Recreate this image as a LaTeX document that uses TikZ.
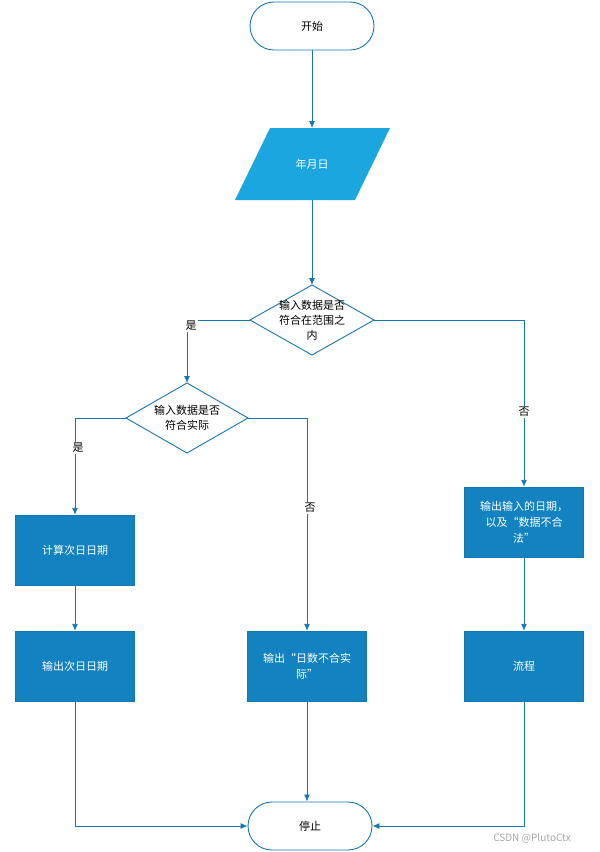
\documentclass[tikz,border=0pt]{standalone}
\usepackage{fontspec}
\setmainfont{Noto Sans CJK SC}
\usetikzlibrary{arrows.meta}
\definecolor{edge}{HTML}{1577B0}
\definecolor{boxfill}{HTML}{1283C0}
\definecolor{parafill}{HTML}{1BA6E0}
\begin{document}
\begin{tikzpicture}[x=1pt,y=-1pt,
  lbl/.style={font=\fontsize{11}{15}\selectfont, align=center, inner sep=0pt},
  term/.style={draw=edge, line width=0.9pt, fill=white, rounded corners=24pt, minimum width=124pt, minimum height=48pt, font=\fontsize{11}{15}\selectfont},
  proc/.style={draw=edge, fill=boxfill, minimum width=119pt, minimum height=70pt, align=center, text=white, font=\fontsize{11}{16}\selectfont},
  conn/.style={draw=edge, line width=0.9pt, -{Latex[length=7pt,width=6pt]}},
  cond/.style={draw=edge, line width=0.9pt, fill=white},
  yn/.style={font=\fontsize{11}{14}\selectfont, fill=white, inner sep=1pt}]
\useasboundingbox (0,0) rectangle (600,852);
% start
\node[term] (start) at (312,26) {开始};
% parallelogram
\coordinate (pt) at (312,128); \coordinate (pb) at (312,200);
\fill[parafill] (270,128) -- (390,128) -- (355,200) -- (235,200) -- cycle;
\node[lbl, text=white] (para) at (312,164) {年月日};
% diamond 1
\coordinate (d1t) at (312,285); \coordinate (d1b) at (312,355);
\coordinate (d1l) at (250,320); \coordinate (d1r) at (374,320);
\draw[cond] (d1t) -- (d1r) -- (d1b) -- (d1l) -- cycle;
\node[lbl] (d1) at (312,320) {输入数据是否\\符合在范围之\\内};
% diamond 2
\coordinate (d2t) at (187,383); \coordinate (d2b) at (187,453);
\coordinate (d2l) at (126,418); \coordinate (d2r) at (248,418);
\draw[cond] (d2t) -- (d2r) -- (d2b) -- (d2l) -- cycle;
\node[lbl] (d2) at (187,418) {输入数据是否\\符合实际};
% process boxes
\node[proc] (calc) at (75,550) {计算次日日期};
\node[proc] (outn) at (75,666) {输出次日日期};
\node[proc] (outbad) at (307,666) {输出“日数不合实\\际”};
\node[proc] (outin) at (524,522) {输出输入的日期，\\以及“数据不合\\法”};
\node[proc] (flow) at (524,666) {流程};
% stop
\node[term] (stop) at (310,826) {停止};
% connectors
\draw[conn] (start) -- (pt);
\draw[conn] (pb) -- (d1t);
\draw[conn] (d1l) -| (d2t);
\node[yn] at (191,326) {是};
\draw[conn] (d1r) -| (outin.north);
\node[yn] at (524,412) {否};
\draw[conn] (d2l) -| (calc.north);
\node[yn] at (78,448) {是};
\draw[conn] (d2r) -| (outbad.north);
\node[yn] at (310,508) {否};
\draw[conn] (calc) -- (outn);
\draw[conn] (outin) -- (flow);
\draw[conn] (outn.south) |- (stop.west);
\draw[conn] (outbad.south) -- (outbad.south |- stop.north);
\draw[conn] (flow.south) |- (stop.east);
\node[font=\fontsize{10}{12}\selectfont, text=gray!70] (wm) at (532,838) {CSDN @PlutoCtx};
\end{tikzpicture}
\end{document}
